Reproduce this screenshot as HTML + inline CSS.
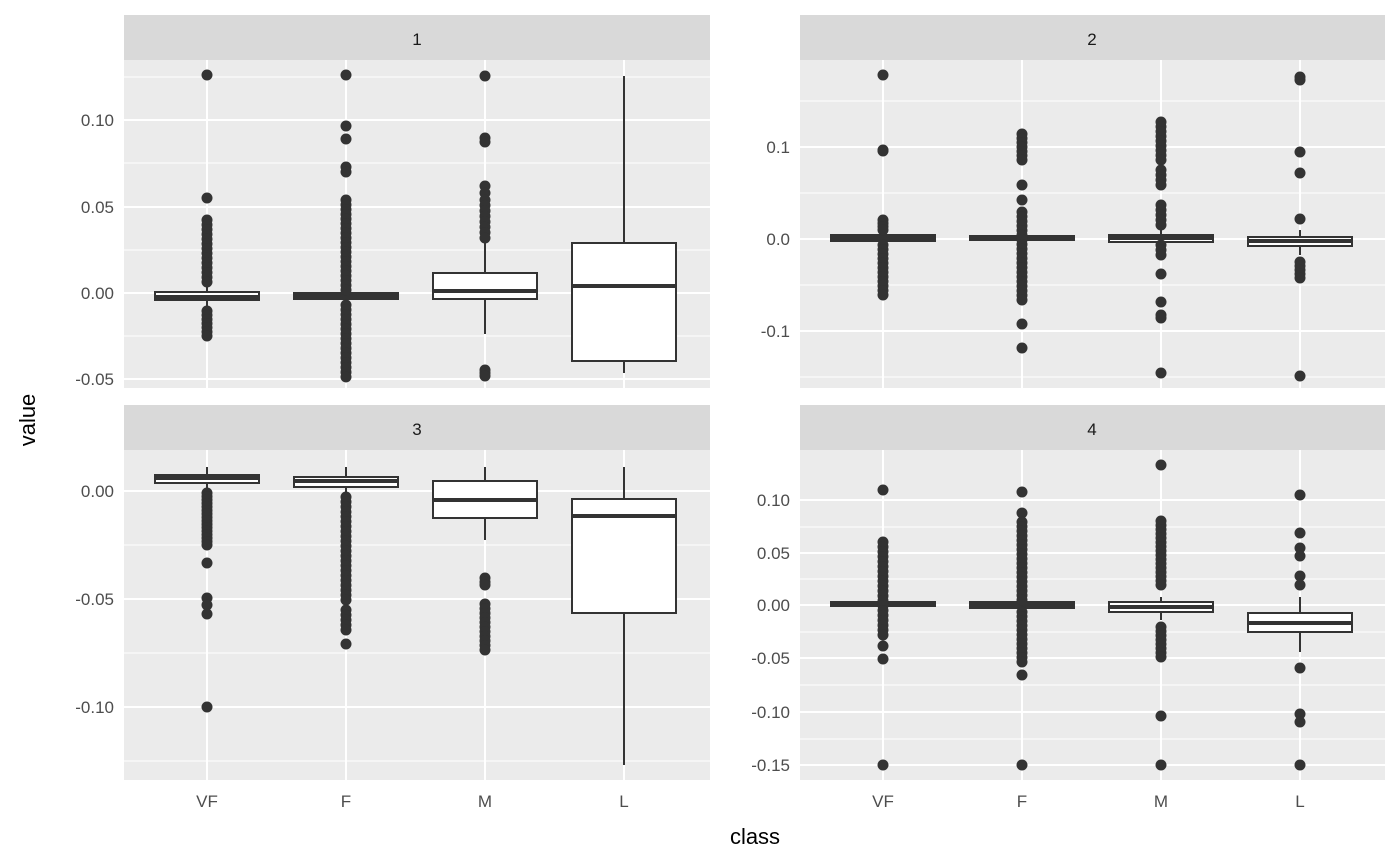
<!DOCTYPE html>
<html><head><meta charset="utf-8"><style>body{margin:0;background:#fff}svg{display:block}text{font-family:"Liberation Sans","DejaVu Sans",sans-serif}</style></head>
<body>
<svg id="s" width="1400" height="866" xmlns="http://www.w3.org/2000/svg">
<rect width="1400" height="866" fill="#fff"/>
<g id="panels"></g>
<g font-size="17" fill="#4d4d4d" text-anchor="end">
<text x="114" y="126">0.10</text><text x="114" y="213">0.05</text><text x="114" y="299">0.00</text><text x="114" y="385">-0.05</text>
<text x="790" y="153">0.1</text><text x="790" y="245">0.0</text><text x="790" y="337">-0.1</text>
<text x="114" y="497">0.00</text><text x="114" y="605">-0.05</text><text x="114" y="713">-0.10</text>
<text x="790" y="506">0.10</text><text x="790" y="559">0.05</text><text x="790" y="611">0.00</text><text x="790" y="664">-0.05</text><text x="790" y="718">-0.10</text><text x="790" y="771">-0.15</text>
</g>
<g font-size="17" fill="#4d4d4d" text-anchor="middle">
<text x="207" y="807">VF</text><text x="346" y="807">F</text><text x="485" y="807">M</text><text x="624" y="807">L</text>
<text x="883" y="807">VF</text><text x="1022" y="807">F</text><text x="1161" y="807">M</text><text x="1300" y="807">L</text>
</g>
<g font-size="17" fill="#1a1a1a" text-anchor="middle">
<text x="417" y="45">1</text><text x="1092" y="45">2</text><text x="417" y="435">3</text><text x="1092" y="435">4</text>
</g>
<text x="755" y="844" font-size="22" text-anchor="middle" fill="#000">class</text>
<text transform="translate(35,420) rotate(-90)" font-size="22" text-anchor="middle" fill="#000">value</text>
</svg>
<script>
var NS="http://www.w3.org/2000/svg",G=document.getElementById("panels");
function el(t,a){var e=document.createElementNS(NS,t);for(var k in a)e.setAttribute(k,a[k]);G.appendChild(e);return e;}
function range(a,b,n){var r=[];for(var i=0;i<n;i++)r.push(a+(b-a)*i/(n-1));return r;}
var panels=[
{x0:124,x1:710,y0:60,y1:388,st:15,xs:[207,346,485,624],maj:[120,207,293,379],min:[77,163,250,336],
 b:[[270,292,297,300,318,[75,198].concat(range(220,282,14),range(311,336,7))],
    [272,293,296,299,320,[75,126,139,167,172].concat(range(200,290,20),range(305,377,16))],
    [240,273,291,299,334,[76,138,142,186,193].concat(range(200,238,8),[370,373,376])],
    [76,243,286,361,373,[]]]},
{x0:800,x1:1385,y0:60,y1:388,st:15,xs:[883,1022,1161,1300],maj:[147,239,331],min:[101,193,285,377],
 b:[[225,235,238,241,248,[75,150,151].concat(range(220,230,4),range(245,295,12))],
    [225,236,238,240,250,range(134,160,7).concat([185,200],range(212,300,20),[324,348])],
    [226,235,238,242,250,range(122,160,9).concat(range(170,185,4),range(205,225,5),range(245,255,3),[274,302,315,318,373])],
    [230,237,241,246,255,[77,80,152,173,219].concat(range(262,278,5),[376])]]},
{x0:124,x1:710,y0:450,y1:780,st:405,xs:[207,346,485,624],maj:[491,599,707],min:[545,653,761],
 b:[[467,475,478,483,490,range(493,545,16).concat([563,598,605,614,707])],
    [467,477,481,487,495,range(497,600,22).concat(range(610,630,5),[644])],
    [467,481,500,518,540,[578,582,585].concat(range(604,650,11))],
    [467,499,516,613,765,[]]]},
{x0:800,x1:1385,y0:450,y1:780,st:405,xs:[883,1022,1161,1300],maj:[500,553,605,658,712,765],min:[527,579,632,685,739],
 b:[[597,602,604,606,612,[490].concat(range(542,635,20),[646,659,765])],
    [597,602,605,608,614,[492,513].concat(range(522,600,18),range(612,662,12),[675,765])],
    [597,602,607,612,620,[465].concat(range(521,585,16),range(627,657,8),[716,765])],
    [597,613,623,632,652,[495,533,548,556,576,585,668,714,722,765]]]}
];
panels.forEach(function(p){
 el("rect",{x:p.x0,y:p.st,width:p.x1-p.x0,height:p.y0-p.st,fill:"#d9d9d9"});
 el("rect",{x:p.x0,y:p.y0,width:p.x1-p.x0,height:p.y1-p.y0,fill:"#ebebeb"});
 p.min.forEach(function(y){el("line",{x1:p.x0,x2:p.x1,y1:y,y2:y,stroke:"#fff","stroke-width":1});});
 p.maj.forEach(function(y){el("line",{x1:p.x0,x2:p.x1,y1:y,y2:y,stroke:"#fff","stroke-width":2});});
 p.xs.forEach(function(x){el("line",{x1:x,x2:x,y1:p.y0,y2:p.y1,stroke:"#fff","stroke-width":2});});
 p.b.forEach(function(b,i){var x=p.xs[i];
  el("line",{x1:x,x2:x,y1:b[0],y2:b[4],stroke:"#333","stroke-width":2});
  el("rect",{x:x-52,y:b[1],width:104,height:b[3]-b[1],fill:"#fff",stroke:"#333","stroke-width":2});
  el("line",{x1:x-52,x2:x+52,y1:b[2],y2:b[2],stroke:"#333","stroke-width":4});
  b[5].forEach(function(y){el("circle",{cx:x,cy:y,r:5.5,fill:"#333"});});
 });
});
</script>
</body></html>
